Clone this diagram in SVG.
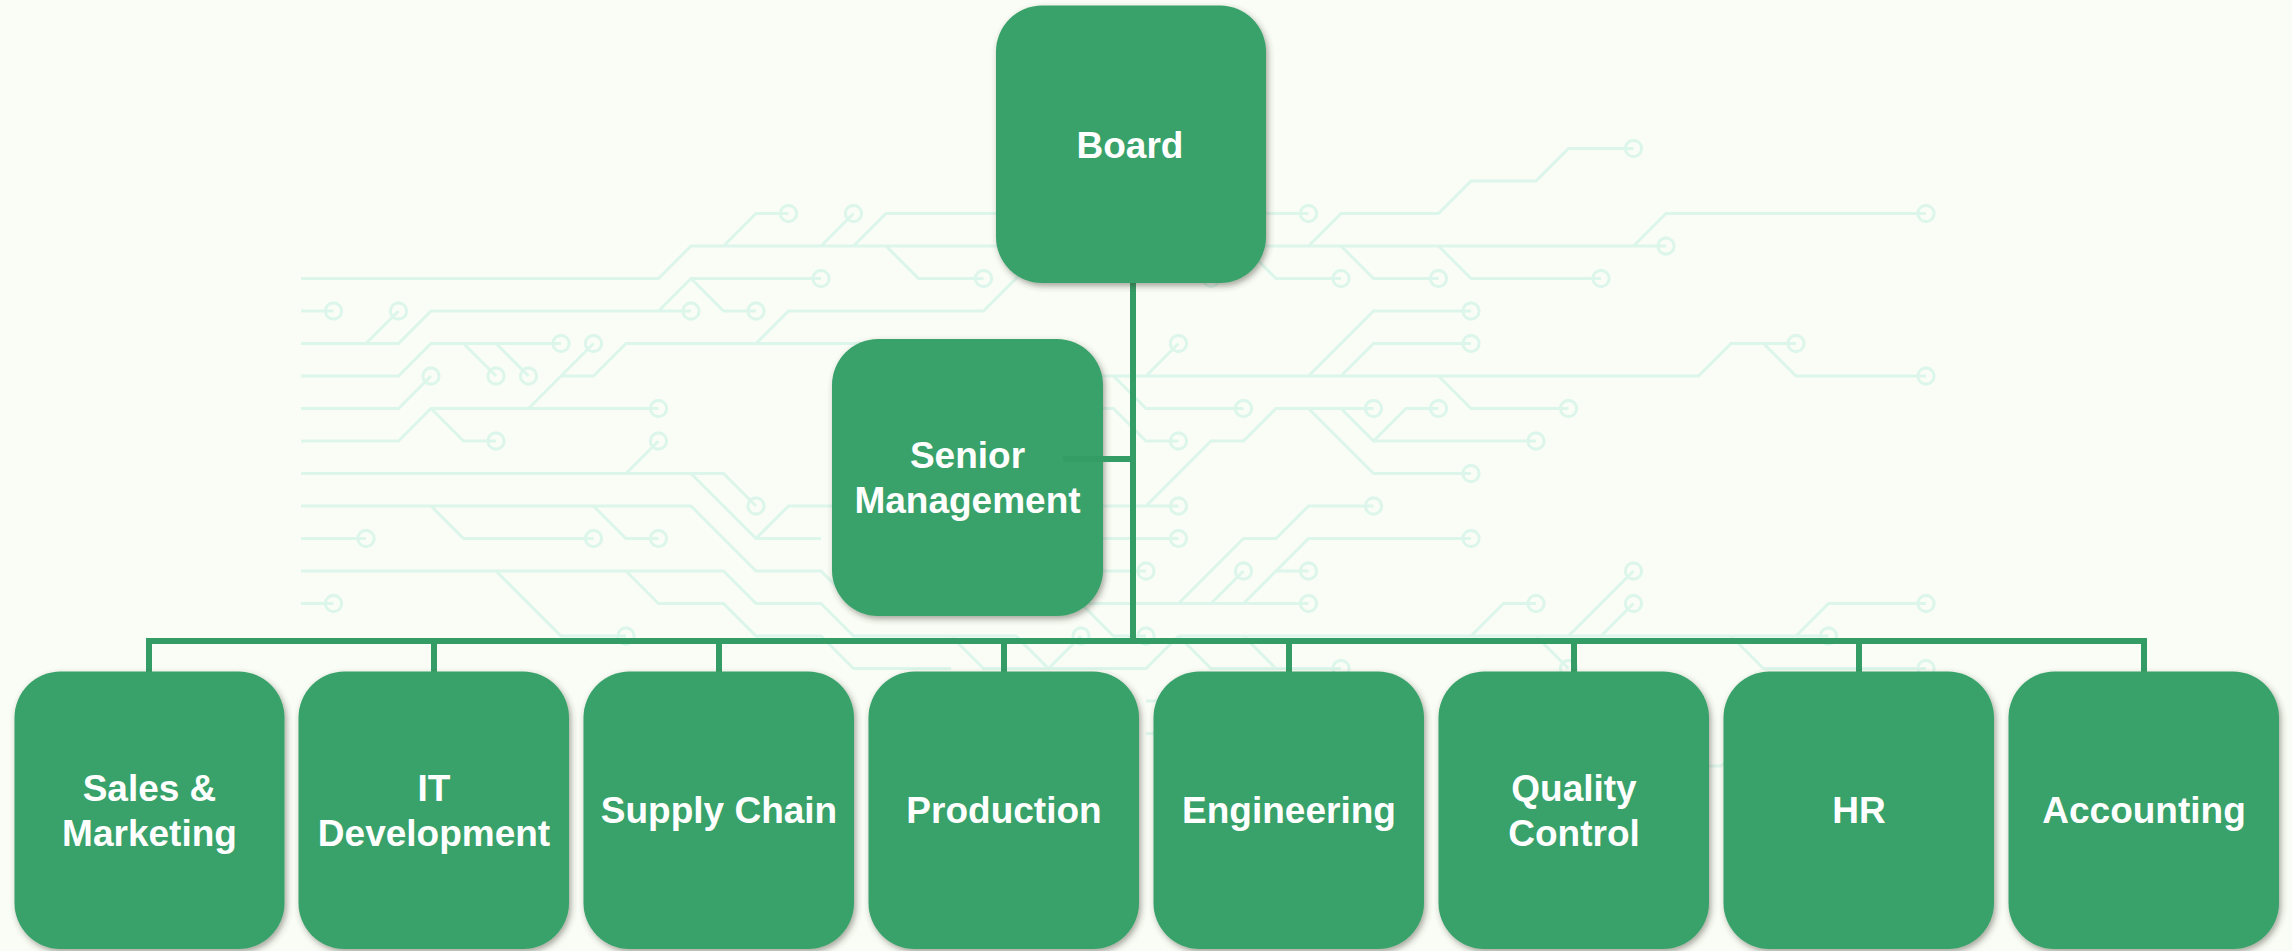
<svg xmlns="http://www.w3.org/2000/svg" width="2292" height="951" viewBox="0 0 2292 951">
<style>
.bg{fill:#fafdf6}
.tr{fill:none;stroke:#ddf6eb;stroke-width:.095;stroke-linejoin:miter}
.tr circle{stroke-width:.095}
.box{fill:#39a26b;filter:url(#sh)}
.cn{fill:none;stroke:#349d66;stroke-width:6}
text{font-family:"Liberation Sans",Arial,sans-serif;font-weight:700;font-size:37px;fill:#fff;text-anchor:middle}
</style>
<defs>
<filter id="sh" x="-10%" y="-10%" width="120%" height="120%"><feDropShadow dx="2" dy="3" stdDeviation="3" flood-color="#3a3a2a" flood-opacity=".45"/></filter>
</defs>
<rect class="bg" width="2292" height="951"/>
<g id="traces" class="tr" transform="translate(301 213.5) scale(32.5)">
<path d="M0 2H11L12 1H42M13 1L14 0H15M16 1L17 0M17 1L18 0H31M18 1L19 2H21M27 1L28 2M29 1L30 2H32M31 1L32 0H35L36-1H38L39-2H41M41 1L42 0H50M32 1L33 2H35M35 1L36 2H40"/>
<path d="M0 3H1M0 4H3L4 3H12M2 4L3 3M11 3L12 2H16M12 2L13 3H14M0 5H3L4 4H8M5 4L6 5M6 4L7 5M0 6H3L4 5M0 7H3L4 6H11M7 6L9 4M8 5H9L10 4H14L15 3H21L23 1M4 6L5 7H6"/>
<path d="M0 8H13L14 9M10 8L11 7M12 8L14 10H16M14 10L15 9H17M0 9H12L14 11H16L17 12H20M4 9L5 10H9M9 9L10 10H11M0 10H2M0 11H13L14 12H16L17 13H22L23 14L24 13M10 11L11 12H13L14 13H16L17 14H20M6 11L8 13H10M0 12H1M20 13L21 14H26L27 13"/>
<path d="M14 4H23L24 5H43L44 4H46M45 4L46 5H50M26 5L27 4M25 5L26 6H29M35 5L36 6H39M31 5L33 3H36M32 5L33 4H36M22 6H25L26 7H27M22 9H27M22 10H27M22 11H26M18 12H31M24 12L25 13H26M26 9L28 7H29L30 6H33M31 6L33 8H36M32 6L33 7H38M33 7L34 6H35M27 12L29 10H30L31 9H33M29 12L31 10H36M30 11H31M28 12L29 11"/>
<path d="M27 13H47M27 13L28 14H30M29 13L30 14H32M36 13L37 12H38M39 13L41 11M40 13L41 12M46 13L47 12H50M44 13L45 14H50M38 13L39 14M26 15H31M26 16H31M40 17H43.700L44.700 16"/>
<circle cx="15" cy="0" r=".25"/><circle cx="17" cy="0" r=".25"/><circle cx="31" cy="0" r=".25"/><circle cx="21" cy="2" r=".25"/><circle cx="28" cy="2" r=".25"/><circle cx="32" cy="2" r=".25"/><circle cx="41" cy="-2" r=".25"/><circle cx="50" cy="0" r=".25"/><circle cx="42" cy="1" r=".25"/><circle cx="35" cy="2" r=".25"/><circle cx="40" cy="2" r=".25"/><circle cx="16" cy="2" r=".25"/><circle cx="1" cy="3" r=".25"/><circle cx="3" cy="3" r=".25"/><circle cx="12" cy="3" r=".25"/><circle cx="14" cy="3" r=".25"/><circle cx="8" cy="4" r=".25"/><circle cx="9" cy="4" r=".25"/><circle cx="6" cy="5" r=".25"/><circle cx="7" cy="5" r=".25"/><circle cx="4" cy="5" r=".25"/><circle cx="11" cy="6" r=".25"/><circle cx="6" cy="7" r=".25"/><circle cx="11" cy="7" r=".25"/><circle cx="14" cy="9" r=".25"/><circle cx="2" cy="10" r=".25"/><circle cx="9" cy="10" r=".25"/><circle cx="11" cy="10" r=".25"/><circle cx="1" cy="12" r=".25"/><circle cx="10" cy="13" r=".25"/><circle cx="24" cy="13" r=".25"/><circle cx="26" cy="13" r=".25"/><circle cx="36" cy="3" r=".25"/><circle cx="36" cy="4" r=".25"/><circle cx="46" cy="4" r=".25"/><circle cx="50" cy="5" r=".25"/><circle cx="27" cy="4" r=".25"/><circle cx="29" cy="6" r=".25"/><circle cx="39" cy="6" r=".25"/><circle cx="27" cy="7" r=".25"/><circle cx="33" cy="6" r=".25"/><circle cx="35" cy="6" r=".25"/><circle cx="38" cy="7" r=".25"/><circle cx="36" cy="8" r=".25"/><circle cx="27" cy="9" r=".25"/><circle cx="27" cy="10" r=".25"/><circle cx="33" cy="9" r=".25"/><circle cx="36" cy="10" r=".25"/><circle cx="26" cy="11" r=".25"/><circle cx="29" cy="11" r=".25"/><circle cx="31" cy="11" r=".25"/><circle cx="31" cy="12" r=".25"/><circle cx="38" cy="12" r=".25"/><circle cx="41" cy="11" r=".25"/><circle cx="41" cy="12" r=".25"/><circle cx="50" cy="12" r=".25"/><circle cx="47" cy="13" r=".25"/><circle cx="50" cy="14" r=".25"/><circle cx="32" cy="14" r=".25"/><circle cx="39" cy="14" r=".25"/>
</g>
<g id="connectors" class="cn">
<path d="M1133 283V641M146 641H2147M149 641V672M434 641V672M719 641V672M1004 641V672M1289 641V672M1574 641V672M1859 641V672M2144 641V672"/>
</g>
<g id="board"><rect class="box" x="996" y="5.500" width="270" height="277.500" rx="46"/><text x="1130" y="157.700">Board</text></g>
<g id="senior"><rect class="box" x="832" y="339" width="271" height="277" rx="46"/><text x="967.500" y="468">Senior</text><text x="967.500" y="513">Management</text></g>
<g id="sales"><rect class="box" x="14.500" y="671.500" width="270" height="277.500" rx="46"/><text x="149.500" y="800.500">Sales &amp;</text><text x="149.500" y="845.500">Marketing</text></g>
<g id="it"><rect class="box" x="298.500" y="671.500" width="270.500" height="277.500" rx="46"/><text x="434" y="800.500">IT</text><text x="434" y="845.500">Development</text></g>
<g id="supply"><rect class="box" x="583.500" y="671.500" width="270.500" height="277.500" rx="46"/><text x="719" y="823">Supply Chain</text></g>
<g id="production"><rect class="box" x="868.500" y="671.500" width="270.500" height="277.500" rx="46"/><text x="1004" y="823">Production</text></g>
<g id="engineering"><rect class="box" x="1153.500" y="671.500" width="270.500" height="277.500" rx="46"/><text x="1289" y="823">Engineering</text></g>
<g id="quality"><rect class="box" x="1438.500" y="671.500" width="270.500" height="277.500" rx="46"/><text x="1574" y="800.500">Quality</text><text x="1574" y="845.500">Control</text></g>
<g id="hr"><rect class="box" x="1723.500" y="671.500" width="270.500" height="277.500" rx="46"/><text x="1859" y="823">HR</text></g>
<g id="accounting"><rect class="box" x="2008.500" y="671.500" width="270.500" height="277.500" rx="46"/><text x="2144" y="823">Accounting</text></g>
<g id="senior-link" class="cn"><path d="M1063 459H1133"/></g>
</svg>
